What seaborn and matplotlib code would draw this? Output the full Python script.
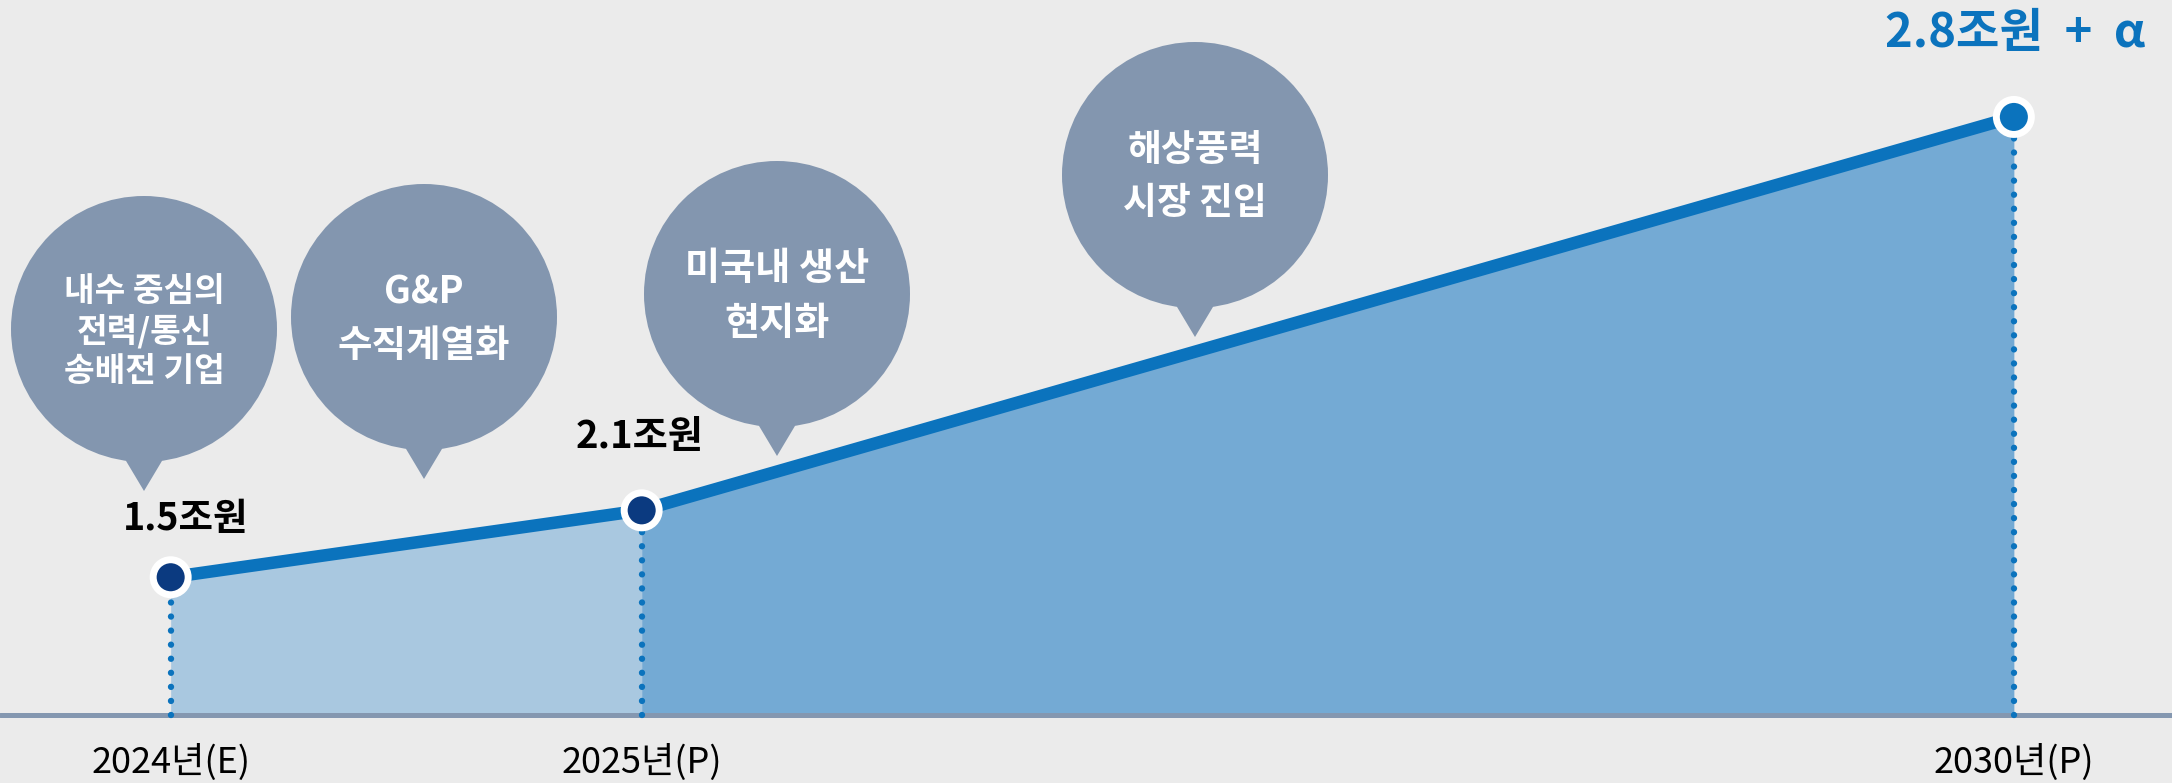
import numpy as np
import matplotlib
matplotlib.use("Agg")
import matplotlib.pyplot as plt
import seaborn as sns
from matplotlib.patches import Circle, Polygon

# ---------------- data ----------------
years = [2024, 2025, 2030]
year_labels = ["2024년(E)", "2025년(P)", "2030년(P)"]
values = [1.5, 2.1, 2.8]                      # 조원
value_labels = ["1.5조원", "2.1조원", "2.8조원  +  α"]
bubble_texts = [
    ["내수 중심의", "전력/통신", "송배전 기업"],
    ["G&P", "수직계열화"],
    ["미국내 생산", "현지화"],
    ["해상풍력", "시장 진입"],
]

# ---------------- style ----------------
sns.set_theme(style="white")
plt.rcParams["font.family"] = ["Noto Sans CJK KR", "DejaVu Sans"]

BG = "#EBEBEB"
LINE = "#0B73BD"
NAVY = "#0B3A80"
FILL_A = "#A9C8E0"
FILL_B = "#74AAD4"
AXIS = "#8497B0"
BUBBLE = "#8396AF"

W, H = 2172, 783
BASE_PX = 715
fig = plt.figure(figsize=(W / 100, H / 100), dpi=100, facecolor=BG)
ax = fig.add_axes([0, (H - BASE_PX) / H, 1, BASE_PX / H])
ax.set_facecolor("none")

# schematic (non-linear) scales, as in the original infographic
P = 0.48
def xf(x):
    d = np.asarray(x, float) - 2023
    return np.sign(d) * np.abs(d) ** P
def xi(u):
    u = np.asarray(u, float)
    return 2023 + np.sign(u) * np.abs(u) ** (1 / P)

def yf(v):
    v = np.asarray(v, float)
    return v + np.sign(v) * np.abs(v / 2.5) ** 11.6
_grid = np.linspace(-1, 4, 40001)
def yi(f):
    return np.interp(f, yf(_grid), _grid)

ax.set_xscale("function", functions=(xf, xi))
ax.set_yscale("function", functions=(yf, yi))
ax.set_xlim(2023.725, 2030.781)
ax.set_ylim(0, 2.8686)

# area fills
ax.fill_between(years[:2], 0, values[:2], color=FILL_A, lw=0, zorder=1)
ax.fill_between(years[1:], 0, values[1:], color=FILL_B, lw=0, zorder=1)

# baseline
ax.axhline(0, color=AXIS, lw=3.6, clip_on=False, zorder=3)

# dotted drop lines
vl = ax.vlines(years, 0, values, colors=LINE, linewidth=4.6,
               linestyles=[(0, (0.001, 2.2))], zorder=3, clip_on=False)
vl.set_capstyle("round")

# main line
sns.lineplot(x=years, y=values, color=LINE, linewidth=9, ax=ax, zorder=4,
             solid_capstyle="butt", solid_joinstyle="round")

# markers
point_colors = [NAVY, NAVY, LINE]
ax.scatter(years, values, s=635, c=point_colors, edgecolors="white",
           linewidths=5.0, zorder=5, clip_on=False)

# value labels
label_offsets = [(15, 59), (-2, 74), (1, 84)]
label_sizes = [27, 27.5, 34]
label_colors = ["black", "black", LINE]
for yr, v, t, off, fs, col in zip(years, values, value_labels, label_offsets,
                                  label_sizes, label_colors):
    ax.annotate(t, xy=(yr, v), xytext=off, textcoords="offset pixels",
                ha="center", va="center", fontsize=fs, fontweight="bold",
                color=col, zorder=6, annotation_clip=False)

# x tick labels
ax.set_xticks(years)
ax.set_xticklabels(year_labels)
ax.tick_params(axis="x", length=0, pad=21, labelsize=26, labelcolor="black")
ax.minorticks_off()
ax.set_yticks([])
for s in ax.spines.values():
    s.set_visible(False)

# speech bubbles (overlay in pixel space)
ov = fig.add_axes([0, 0, 1, 1], zorder=10)
ov.set_xlim(0, W)
ov.set_ylim(H, 0)
ov.axis("off")
ov.patch.set_alpha(0)
R = 133
bubble_centers = [(144, 329), (424, 317), (777, 294), (1195, 175)]
bubble_font = [24, 27, 27.5, 26.5]
bubble_gap = [40, 53, 55, 53]
for (cx, cy), lines, fs, gap in zip(bubble_centers, bubble_texts, bubble_font, bubble_gap):
    ov.add_patch(Circle((cx, cy), R, color=BUBBLE, lw=0))
    ov.add_patch(Polygon([(cx - 24.5, cy + R - 12), (cx + 24.5, cy + R - 12),
                          (cx, cy + R + 29)], closed=True, color=BUBBLE, lw=0))
    n = len(lines)
    for i, t in enumerate(lines):
        ty = cy + 2 + (i - (n - 1) / 2) * gap
        ov.text(cx, ty, t, ha="center", va="center", color="white",
                fontsize=fs, fontweight="bold")

fig.savefig("out.png", dpi=100, facecolor=BG)
